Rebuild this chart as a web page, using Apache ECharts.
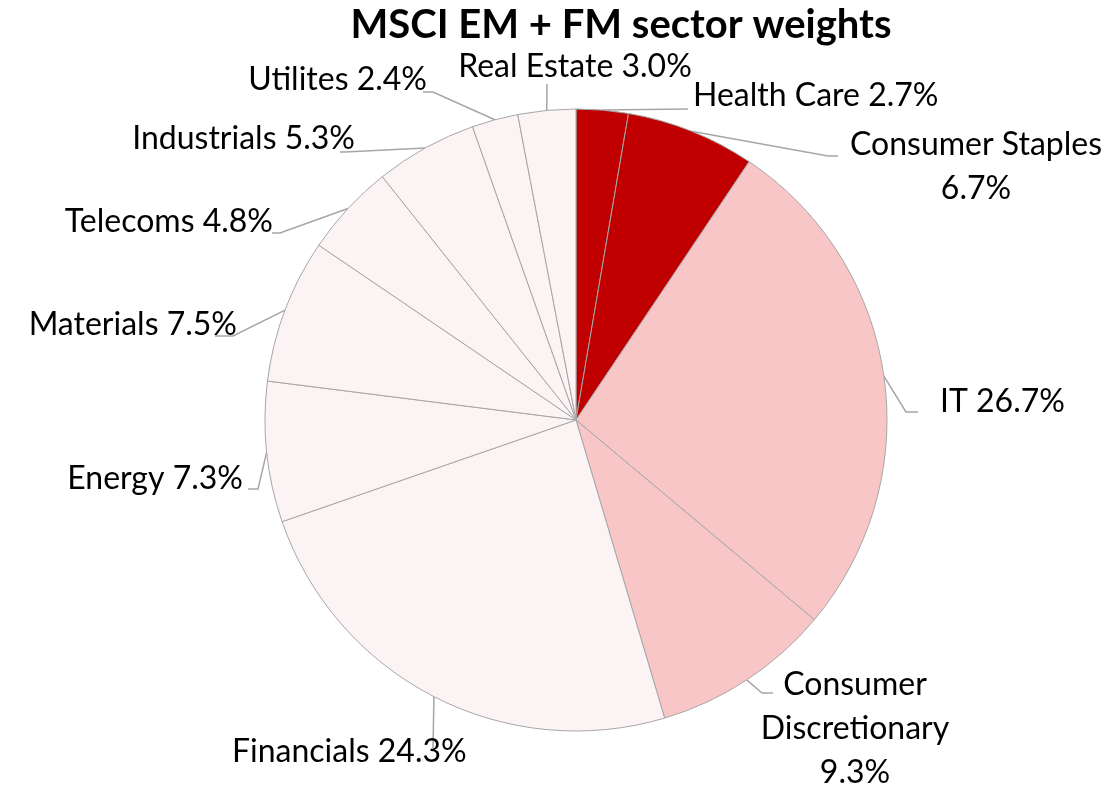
<!DOCTYPE html>
<html>
<head>
<meta charset="utf-8">
<script src="https://cdn.jsdelivr.net/npm/echarts@6/dist/echarts.min.js"></script>
<style>
html,body{margin:0;padding:0;background:#fff;}
#chart{width:1120px;height:789px;}
</style>
</head>
<body>
<div id="chart"></div>
<script>
const categories = ['Health Care', 'Consumer Staples', 'IT', 'Consumer Discretionary', 'Financials', 'Energy', 'Materials', 'Telecoms', 'Industrials', 'Utilites', 'Real Estate'];
const weights = [2.7, 6.7, 26.7, 9.3, 24.3, 7.3, 7.5, 4.8, 5.3, 2.4, 3.0];
const labelTexts = ['Health Care 2.7%', 'Consumer Staples\n6.7%', 'IT 26.7%', 'Consumer\nDiscretionary\n9.3%', 'Financials 24.3%', 'Energy 7.3%', 'Materials 7.5%', 'Telecoms 4.8%', 'Industrials 5.3%', 'Utilites 2.4%', 'Real Estate 3.0%'];

const colors = ['#C00000', '#C00000', '#F8C6C6', '#F8C6C6', '#FCF4F4', '#FCF4F4', '#FCF4F4', '#FCF4F4', '#FCF4F4', '#FCF4F4', '#FCF4F4'];
// label placement: text anchor x, y, alignment
const labelPlace = [
  [693, 96, 'left'],
  [976, 167, 'center'],
  [940, 402, 'left'],
  [855, 729, 'center'],
  [232, 752, 'left'],
  [243, 479, 'right'],
  [237, 325, 'right'],
  [273, 222, 'right'],
  [355, 139, 'right'],
  [427, 80, 'right'],
  [575, 67, 'center']
];
// leader line ends near the text: elbow point, end point
const leaderEnds = [
  [[688, 109], [688, 109]],
  [[828, 156], [838, 156]],
  [[906, 412], [918, 412]],
  [[762, 693], [773, 693]],
  [[433, 748], [433, 748]],
  [[258, 489], [248, 489]],
  [[233, 336], [215, 336]],
  [[280, 233], [272, 233]],
  [[345, 152], [340, 152]],
  [[433, 92], [423, 92]],
  [[547, 84], [547, 84]]
];

const FONT = 'Lato';
const chart = echarts.init(document.getElementById('chart'));
chart.setOption({
  animation: false,
  title: {
    text: 'MSCI EM + FM sector weights',
    left: 616,
    top: 0,
    textAlign: 'center',
    textStyle: {fontFamily: FONT, fontSize: 40, fontWeight: 'bold', color: '#000'}
  },
  series: [{
    type: 'pie',
    center: [576, 420],
    radius: [0, 311],
    startAngle: 90,
    clockwise: true,
    avoidLabelOverlap: false,
    itemStyle: {borderColor: '#A6A6A6', borderWidth: 1},
    label: {
      show: true,
      fontFamily: FONT,
      fontSize: 32,
      color: '#000',
      lineHeight: 44
    },
    labelLine: {show: true, length: 10, length2: 10, lineStyle: {color: '#A6A6A6', width: 1.5}},
    labelLayout: function (params) {
      const i = params.dataIndex;
      const p = labelPlace[i];
      const out = {x: p[0], y: p[1], align: p[2], verticalAlign: 'middle'};
      if (params.labelLinePoints && params.labelLinePoints[0]) {
        const a = params.labelLinePoints[0];
        out.labelLinePoints = [[a[0], a[1]], leaderEnds[i][0], leaderEnds[i][1]];
      }
      return out;
    },
    emphasis: {disabled: true},
    data: categories.map((c, i) => ({
      name: c,
      value: weights[i],
      itemStyle: {color: colors[i]},
      label: {formatter: labelTexts[i], align: labelPlace[i][2]}
    }))
  }]
});
</script>
</body>
</html>
